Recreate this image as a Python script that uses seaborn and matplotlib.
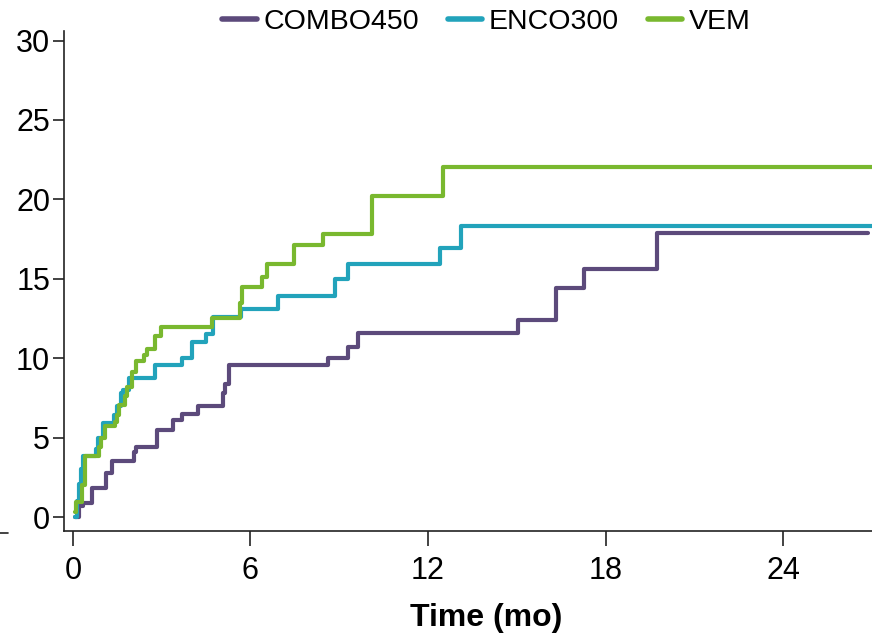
import numpy as np
import pandas as pd
import matplotlib
matplotlib.use("Agg")
import matplotlib.pyplot as plt
from matplotlib.lines import Line2D
import seaborn as sns

groups = ["COMBO450", "ENCO300", "VEM"]
colors = ["#5c4a7b", "#22a3bb", "#79b82f"]

combo_t = [0.07, 0.2, 0.34, 0.64, 1.11, 1.32, 2.06, 2.13, 2.83, 3.37, 3.68, 4.22,
           5.06, 5.13, 5.27, 8.61, 9.28, 9.65, 15.05, 16.33, 17.28, 19.74, 26.85]
combo_v = [0.0, 0.7, 0.9, 1.8, 2.8, 3.5, 4.1, 4.4, 5.5, 6.1, 6.5, 7.0,
           7.8, 8.4, 9.6, 10.0, 10.7, 11.6, 12.4, 14.4, 15.6, 17.9, 17.9]

enco_t = [0.07, 0.15, 0.2, 0.27, 0.34, 0.78, 0.84, 1.01, 1.38, 1.48, 1.62, 1.7, 1.9,
          2.77, 3.68, 4.02, 4.49, 4.73, 5.67, 6.92, 8.84, 9.28, 12.39, 13.13, 27.0]
enco_v = [0.0, 1.0, 2.1, 3.0, 3.85, 4.3, 5.0, 5.9, 6.4, 7.0, 7.8, 8.0, 8.75,
          9.6, 10.0, 11.0, 11.5, 12.6, 13.1, 13.9, 15.0, 15.9, 16.95, 18.35, 18.35]

vem_t = [0.07, 0.1, 0.3, 0.4, 0.88, 0.95, 1.08, 1.42, 1.49, 1.55, 1.76, 1.82,
         1.99, 2.13, 2.4, 2.5, 2.77, 2.97, 4.69, 5.64, 5.73, 6.38, 6.55, 7.46,
         8.44, 10.09, 12.49, 27.0]
vem_v = [0.3, 0.95, 2.0, 3.85, 4.4, 5.0, 5.7, 6.0, 6.4, 7.05, 7.6, 8.2,
         9.1, 9.8, 10.2, 10.6, 11.4, 11.95, 12.5, 13.5, 14.5, 15.1, 15.9, 17.1,
         17.85, 20.2, 22.05, 22.05]

frames = []
for g, t, v in zip(groups, [combo_t, enco_t, vem_t], [combo_v, enco_v, vem_v]):
    frames.append(pd.DataFrame({"time": t, "value": v, "group": g}))
df = pd.concat(frames, ignore_index=True)

sns.set_theme(style="ticks")
plt.rcParams["font.family"] = ["Liberation Sans", "DejaVu Sans"]
plt.rcParams["text.color"] = "black"

fig = plt.figure(figsize=(8.72, 6.38), dpi=100)
ax = fig.add_axes([64 / 872, 1 - 531 / 638, 1 - 64 / 872, (531 - 31) / 638])

sns.lineplot(data=df, x="time", y="value", hue="group", hue_order=groups,
             palette=colors, estimator=None, sort=False, drawstyle="steps-post",
             linewidth=3.0, ax=ax, legend=False)

ax.set_xlim(-0.3, 27.0)
ax.set_ylim(-0.88, 30.6)
ax.set_xticks([0, 6, 12, 18, 24])
ax.set_yticks([0, 5, 10, 15, 20, 25, 30])
ax.tick_params(axis="y", labelsize=22, length=8, width=1.2, pad=2, colors="#222222",
               labelcolor="black")
ax.tick_params(axis="x", labelsize=22, length=11, width=1.2, pad=7, colors="#222222",
               labelcolor="black")
for s in ["top", "right"]:
    ax.spines[s].set_visible(False)
for s in ["left", "bottom"]:
    ax.spines[s].set_linewidth(1.2)
    ax.spines[s].set_color("#222222")
ax.set_xlabel("Time (mo)", fontsize=23, fontweight="bold", color="black")
ax.xaxis.set_label_coords((486 - 64) / 808, (531 - 603) / 500)
ax.set_ylabel("")

handles = [Line2D([0], [0], color=c, lw=4) for c in colors]
fig.legend(handles, groups, loc="upper center", bbox_to_anchor=(0.558, 1.026), ncol=3,
           frameon=False, fontsize=20.5, handlelength=1.2, handletextpad=0.25,
           columnspacing=1.0)

fig.add_artist(Line2D([0, 8 / 872], [1 - 533 / 638, 1 - 533 / 638], color="#222222",
                      lw=1.2, transform=fig.transFigure))

fig.savefig("out.png", dpi=100)
